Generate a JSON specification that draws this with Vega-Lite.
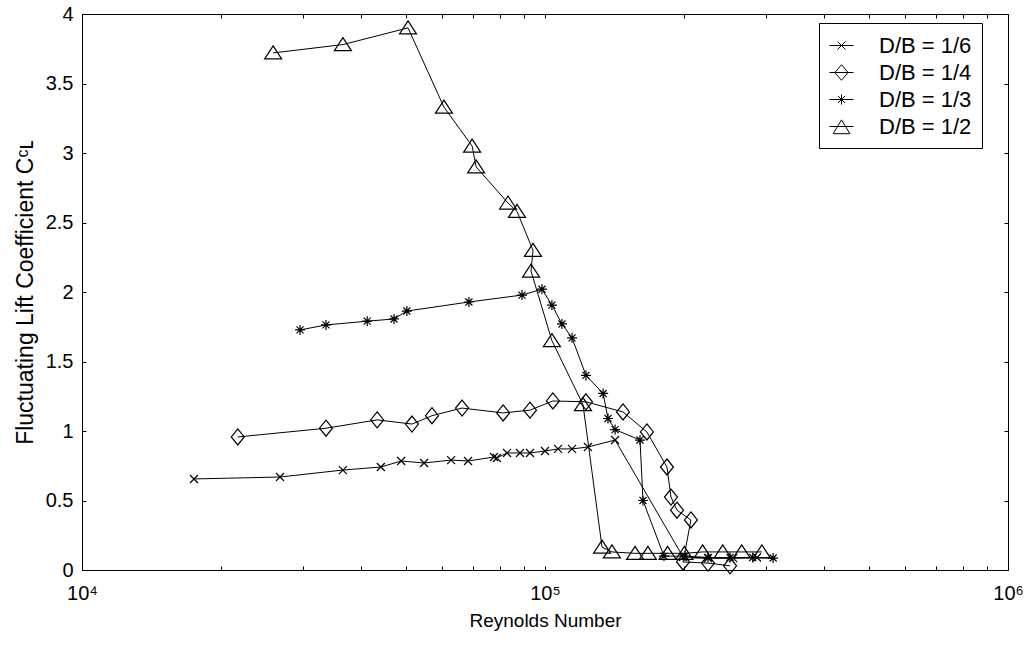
{
  "$schema": "https://vega.github.io/schema/vega-lite/v6.json",
  "width": 926,
  "height": 556,
  "autosize": {"type": "none"},
  "padding": {"left": 82, "top": 14, "right": 21, "bottom": 75},
  "background": "white",
  "config": {
    "font": "Liberation Sans",
    "view": {"stroke": "black", "strokeWidth": 1},
    "axis": {"grid": false, "domainColor": "black", "tickColor": "black", "labelColor": "black", "titleColor": "black", "labelFontSize": 20, "titleFontSize": 20, "titleFontWeight": "normal", "labelFont": "Liberation Sans", "titleFont": "Liberation Sans"}
  },
  "data": {"values": [
    {"s": "D/B = 1/6", "i": 1, "re": 17450, "cl": 0.655},
    {"s": "D/B = 1/6", "i": 2, "re": 26770, "cl": 0.669},
    {"s": "D/B = 1/6", "i": 3, "re": 36600, "cl": 0.719},
    {"s": "D/B = 1/6", "i": 4, "re": 44200, "cl": 0.741},
    {"s": "D/B = 1/6", "i": 5, "re": 48900, "cl": 0.784},
    {"s": "D/B = 1/6", "i": 6, "re": 54800, "cl": 0.770},
    {"s": "D/B = 1/6", "i": 7, "re": 62700, "cl": 0.791},
    {"s": "D/B = 1/6", "i": 8, "re": 68200, "cl": 0.784},
    {"s": "D/B = 1/6", "i": 9, "re": 77600, "cl": 0.813},
    {"s": "D/B = 1/6", "i": 10, "re": 78700, "cl": 0.806},
    {"s": "D/B = 1/6", "i": 11, "re": 82800, "cl": 0.842},
    {"s": "D/B = 1/6", "i": 12, "re": 88300, "cl": 0.842},
    {"s": "D/B = 1/6", "i": 13, "re": 92800, "cl": 0.842},
    {"s": "D/B = 1/6", "i": 14, "re": 100000, "cl": 0.856},
    {"s": "D/B = 1/6", "i": 15, "re": 106700, "cl": 0.871},
    {"s": "D/B = 1/6", "i": 16, "re": 114400, "cl": 0.871},
    {"s": "D/B = 1/6", "i": 17, "re": 123800, "cl": 0.885},
    {"s": "D/B = 1/6", "i": 18, "re": 141700, "cl": 0.935},
    {"s": "D/B = 1/6", "i": 19, "re": 198700, "cl": 0.094},
    {"s": "D/B = 1/6", "i": 20, "re": 225000, "cl": 0.085},
    {"s": "D/B = 1/6", "i": 21, "re": 255000, "cl": 0.085},
    {"s": "D/B = 1/6", "i": 22, "re": 287000, "cl": 0.09},
    {"s": "D/B = 1/4", "i": 1, "re": 21700, "cl": 0.957},
    {"s": "D/B = 1/4", "i": 2, "re": 33650, "cl": 1.02},
    {"s": "D/B = 1/4", "i": 3, "re": 43400, "cl": 1.08},
    {"s": "D/B = 1/4", "i": 4, "re": 51600, "cl": 1.05},
    {"s": "D/B = 1/4", "i": 5, "re": 57000, "cl": 1.11},
    {"s": "D/B = 1/4", "i": 6, "re": 66200, "cl": 1.165},
    {"s": "D/B = 1/4", "i": 7, "re": 81200, "cl": 1.13},
    {"s": "D/B = 1/4", "i": 8, "re": 92800, "cl": 1.15},
    {"s": "D/B = 1/4", "i": 9, "re": 104000, "cl": 1.216},
    {"s": "D/B = 1/4", "i": 10, "re": 122600, "cl": 1.21},
    {"s": "D/B = 1/4", "i": 11, "re": 147400, "cl": 1.137},
    {"s": "D/B = 1/4", "i": 12, "re": 166000, "cl": 0.993},
    {"s": "D/B = 1/4", "i": 13, "re": 183400, "cl": 0.741},
    {"s": "D/B = 1/4", "i": 14, "re": 187100, "cl": 0.525},
    {"s": "D/B = 1/4", "i": 15, "re": 192800, "cl": 0.43},
    {"s": "D/B = 1/4", "i": 16, "re": 206600, "cl": 0.36},
    {"s": "D/B = 1/4", "i": 17, "re": 198700, "cl": 0.058},
    {"s": "D/B = 1/4", "i": 18, "re": 225000, "cl": 0.05},
    {"s": "D/B = 1/4", "i": 19, "re": 251000, "cl": 0.03},
    {"s": "D/B = 1/3", "i": 1, "re": 29580, "cl": 1.727},
    {"s": "D/B = 1/3", "i": 2, "re": 33650, "cl": 1.763},
    {"s": "D/B = 1/3", "i": 3, "re": 41300, "cl": 1.79},
    {"s": "D/B = 1/3", "i": 4, "re": 47200, "cl": 1.806},
    {"s": "D/B = 1/3", "i": 5, "re": 50300, "cl": 1.863},
    {"s": "D/B = 1/3", "i": 6, "re": 68500, "cl": 1.928},
    {"s": "D/B = 1/3", "i": 7, "re": 89200, "cl": 1.978},
    {"s": "D/B = 1/3", "i": 8, "re": 98500, "cl": 2.02},
    {"s": "D/B = 1/3", "i": 9, "re": 103500, "cl": 1.906},
    {"s": "D/B = 1/3", "i": 10, "re": 108800, "cl": 1.77},
    {"s": "D/B = 1/3", "i": 11, "re": 114400, "cl": 1.67},
    {"s": "D/B = 1/3", "i": 12, "re": 122600, "cl": 1.40},
    {"s": "D/B = 1/3", "i": 13, "re": 133500, "cl": 1.27},
    {"s": "D/B = 1/3", "i": 14, "re": 136800, "cl": 1.09},
    {"s": "D/B = 1/3", "i": 15, "re": 141700, "cl": 1.01},
    {"s": "D/B = 1/3", "i": 16, "re": 160400, "cl": 0.935},
    {"s": "D/B = 1/3", "i": 17, "re": 162800, "cl": 0.50},
    {"s": "D/B = 1/3", "i": 18, "re": 180700, "cl": 0.10},
    {"s": "D/B = 1/3", "i": 19, "re": 200600, "cl": 0.10},
    {"s": "D/B = 1/3", "i": 20, "re": 225000, "cl": 0.09},
    {"s": "D/B = 1/3", "i": 21, "re": 251000, "cl": 0.09},
    {"s": "D/B = 1/3", "i": 22, "re": 281000, "cl": 0.09},
    {"s": "D/B = 1/3", "i": 23, "re": 311000, "cl": 0.086},
    {"s": "D/B = 1/2", "i": 1, "re": 25870, "cl": 3.72},
    {"s": "D/B = 1/2", "i": 2, "re": 36600, "cl": 3.78},
    {"s": "D/B = 1/2", "i": 3, "re": 50600, "cl": 3.90},
    {"s": "D/B = 1/2", "i": 4, "re": 60500, "cl": 3.33},
    {"s": "D/B = 1/2", "i": 5, "re": 69600, "cl": 3.05},
    {"s": "D/B = 1/2", "i": 6, "re": 71000, "cl": 2.90},
    {"s": "D/B = 1/2", "i": 7, "re": 83200, "cl": 2.64},
    {"s": "D/B = 1/2", "i": 8, "re": 87000, "cl": 2.58},
    {"s": "D/B = 1/2", "i": 9, "re": 94200, "cl": 2.30},
    {"s": "D/B = 1/2", "i": 10, "re": 93300, "cl": 2.15},
    {"s": "D/B = 1/2", "i": 11, "re": 103500, "cl": 1.65},
    {"s": "D/B = 1/2", "i": 12, "re": 120800, "cl": 1.19},
    {"s": "D/B = 1/2", "i": 13, "re": 132800, "cl": 0.165},
    {"s": "D/B = 1/2", "i": 14, "re": 139500, "cl": 0.13},
    {"s": "D/B = 1/2", "i": 15, "re": 156500, "cl": 0.12},
    {"s": "D/B = 1/2", "i": 16, "re": 166800, "cl": 0.12},
    {"s": "D/B = 1/2", "i": 17, "re": 184000, "cl": 0.12},
    {"s": "D/B = 1/2", "i": 18, "re": 200000, "cl": 0.12},
    {"s": "D/B = 1/2", "i": 19, "re": 219000, "cl": 0.13},
    {"s": "D/B = 1/2", "i": 20, "re": 242000, "cl": 0.13},
    {"s": "D/B = 1/2", "i": 21, "re": 266000, "cl": 0.13},
    {"s": "D/B = 1/2", "i": 22, "re": 294000, "cl": 0.13}
  ]},
  "layer": [
    {
      "mark": {"type": "line", "color": "black", "strokeWidth": 1},
      "encoding": {
        "x": {"field": "re", "type": "quantitative",
          "scale": {"type": "log", "domain": [10000, 1000000], "nice": false},
          "axis": {"orient": "bottom", "values": [10000, 20000, 30000, 40000, 50000, 60000, 70000, 80000, 90000, 100000, 200000, 300000, 400000, 500000, 600000, 700000, 800000, 900000, 1000000],
            "labelExpr": "datum.value == 10000 ? '10⁴' : datum.value == 100000 ? '10⁵' : datum.value == 1000000 ? '10⁶' : ''",
            "tickSize": -4, "labelPadding": 17, "labelFlush": false, "labelOverlap": false,
            "title": "Reynolds Number", "titleFontSize": 19, "titlePadding": 8}},
        "y": {"field": "cl", "type": "quantitative",
          "scale": {"domain": [0, 4], "nice": false, "zero": false},
          "axis": {"orient": "left", "values": [0, 0.5, 1, 1.5, 2, 2.5, 3, 3.5, 4], "format": "~g",
            "tickSize": -4, "labelPadding": 13, "labelFlush": false, "labelOverlap": false,
            "title": "Fluctuating Lift Coefficient Cᶜʟ", "titleFontSize": 23, "titlePadding": 8}},
        "detail": {"field": "s"},
        "order": {"field": "i"}
      }
    },
    {
      "mark": {"type": "point", "filled": false, "color": "black", "strokeWidth": 1.2, "size": 100, "opacity": 1},
      "encoding": {
        "x": {"field": "re", "type": "quantitative",
          "axis": {"orient": "top", "values": [10000, 20000, 30000, 40000, 50000, 60000, 70000, 80000, 90000, 100000, 200000, 300000, 400000, 500000, 600000, 700000, 800000, 900000, 1000000], "labels": false, "tickSize": -4, "title": null}},
        "y": {"field": "cl", "type": "quantitative",
          "axis": {"orient": "right", "values": [0, 0.5, 1, 1.5, 2, 2.5, 3, 3.5, 4], "labels": false, "tickSize": -4, "title": null}},
        "shape": {"field": "s", "type": "nominal",
          "scale": {"domain": ["D/B = 1/6", "D/B = 1/4", "D/B = 1/3", "D/B = 1/2"],
            "range": ["M-0.8,-0.8L0.8,0.8M-0.8,0.8L0.8,-0.8", "M0,-1.6L1.3,0L0,1.6L-1.3,0Z", "M-1,0L1,0M0,-1L0,1M-0.7,-0.7L0.7,0.7M-0.7,0.7L0.7,-0.7", "M0,-1.4L1.7,1.2L-1.7,1.2Z"]},
          "legend": null}
      }
    },
    {
      "mark": {"type": "point", "filled": false, "color": "black", "strokeWidth": 1, "size": 576, "opacity": 0},
      "encoding": {
        "x": {"field": "re", "type": "quantitative", "axis": null},
        "y": {"field": "cl", "type": "quantitative", "axis": null},
        "shape": {"field": "s", "type": "nominal",
          "scale": {"domain": ["D/B = 1/6", "D/B = 1/4", "D/B = 1/3", "D/B = 1/2"],
            "range": ["M-1,0L1,0M-0.33,-0.33L0.33,0.33M-0.33,0.33L0.33,-0.33", "M-1,0L1,0M0,-0.65L0.55,0L0,0.65L-0.55,0Z", "M-1,0L1,0M0,-0.42L0,0.42M-0.3,-0.3L0.3,0.3M-0.3,0.3L0.3,-0.3", "M-1,0L1,0M0,-0.55L0.7,0.6L-0.7,0.6Z"]},
          "legend": {"orient": "none", "legendX": 737, "legendY": 9, "title": null,
            "padding": 10, "symbolSize": 576, "rowPadding": 3, "labelOffset": 25,
            "labelFontSize": 22, "labelColor": "black", "labelFont": "Liberation Sans",
            "labelExpr": "datum.label + '\u00a0\u00a0\u00a0\u00a0\u00a0'",
            "symbolStrokeColor": "black", "symbolStrokeWidth": 1, "symbolFillColor": "transparent", "symbolOpacity": 1,
            "strokeColor": "black", "fillColor": "white", "cornerRadius": 0,
            "encode": {"symbols": {"update": {
              "size": {"value": 576},
              "stroke": {"value": "black"},
              "strokeWidth": {"value": 1},
              "fill": {"value": "transparent"},
              "opacity": {"value": 1}
            }}}
          }}
      }
    }
  ],
  "resolve": {"axis": {"x": "independent", "y": "independent"}, "scale": {"shape": "independent"}}
}
